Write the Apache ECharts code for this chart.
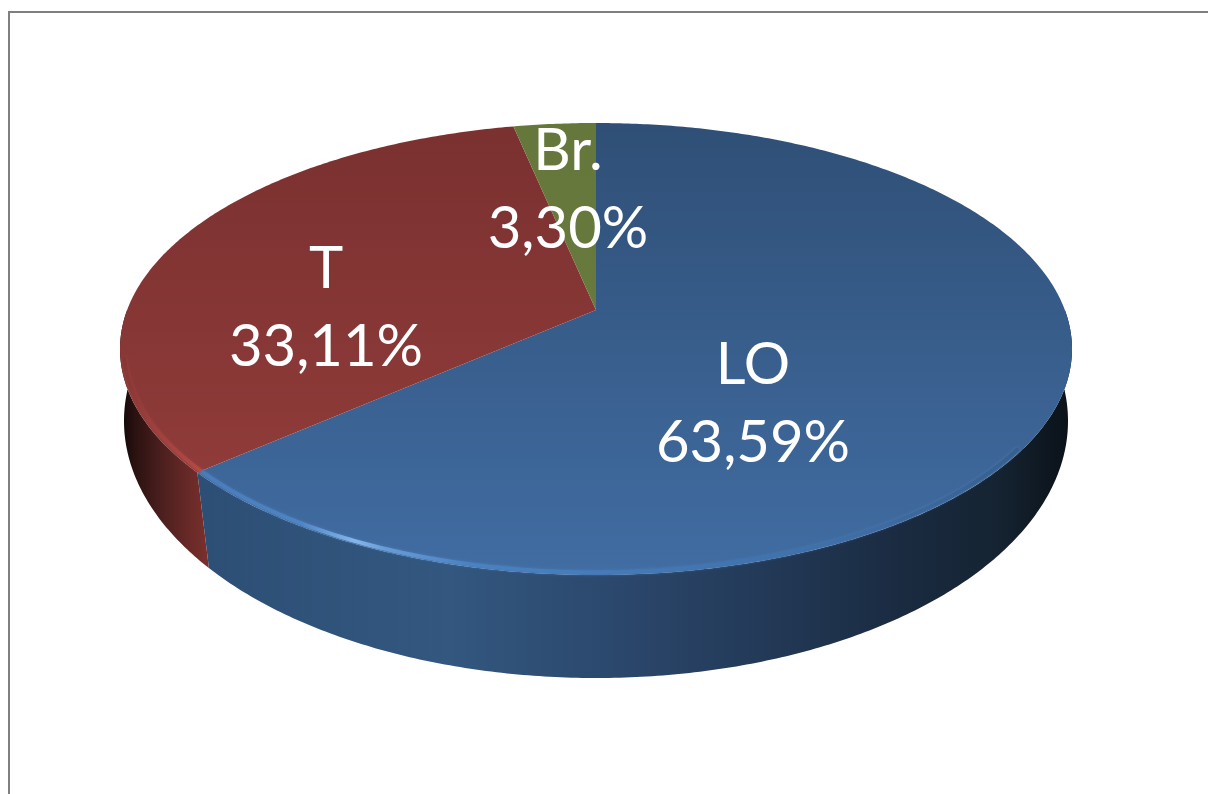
<!DOCTYPE html>
<html>
<head>
<meta charset="utf-8">
<style>html,body{margin:0;padding:0;background:#fff}#c{width:1208px;height:794px}</style>
<script src="https://cdn.jsdelivr.net/npm/echarts@6/dist/echarts.min.js"></script>
</head>
<body>
<div id="c"></div>
<script>
// ---- data ----
const categories = ['LO', 'T', 'Br.'];
const values = [63.59, 33.11, 3.30];
const valueLabels = ['63,59%', '33,11%', '3,30%'];

// ---- layout / style (not data) ----
const labelCenters = [[753, 404], [326, 308], [568, 190]];
const TOP = {cx: 596, cy: 349, rx: 476, ry: 226, c: -0.1726};
const BOTTOM = {cx: 596, cy: 421, rx: 472, ry: 257, c: -0.136};
const RIM_RANGE = [125 * Math.PI / 180, 258 * Math.PI / 180];
const G = (x0, y0, x1, y1, stops) => new echarts.graphic.LinearGradient(
  x0, y0, x1, y1, stops.map(s => ({offset: s[0], color: s[1]})), true);
const wallX = (pairs) => G(120, 0, 1072, 0, pairs.map(p => [(p[0] - 120) / 952, p[1]]));
const faceY = (a, b, y0, y1) => G(0, y0, 0, y1, [[0, a], [1, b]]);
const styles = [
  {
    face: faceY('#2f4f76', '#416da3', 123, 575),
    wall: wallX([[120, '#2f4f74'], [205, '#2d4f76'], [450, '#33577f'], [620, '#2b476c'], [760, '#233a58'], [900, '#1a2b41'], [1000, '#152331'], [1072, '#0a1118']]),
    rim: wallX([[120, '#4a7cba'], [200, '#4a7cba'], [300, '#4f86c5'], [355, '#8dbcf0'], [385, '#6ba0da'], [470, '#4a83c3'], [700, '#4176b2'], [830, '#3f6fa7'], [920, '#3b6698'], [1072, '#35587f']]),
    glow: '#4a7cba'
  },
  {
    face: faceY('#7a3130', '#8f3b39', 127, 470),
    wall: wallX([[120, '#0f0707'], [135, '#2a1211'], [165, '#4f211f'], [207, '#7a302d'], [1072, '#7a302d']]),
    rim: wallX([[120, '#7f3433'], [150, '#9a3f3c'], [200, '#b54a46'], [1072, '#b54a46']]),
    glow: '#a8443f'
  },
  {
    face: faceY('#65773a', '#67793c', 123, 310),
    wall: wallX([[120, '#4a5a2a'], [1072, '#4a5a2a']]),
    rim: wallX([[120, '#65773a'], [1072, '#65773a']]),
    glow: '#65773a'
  }
];

// Projects a point on a circular disc (angle clockwise from 12 o'clock, radius r)
// through the perspective of one horizontal face of the 3-D disc.
function project(f, angle, r) {
  const x = r * Math.sin(angle), y = -r * Math.cos(angle);
  const d = 1 + f.c * y;
  return [f.cx + f.rx * Math.sqrt(1 - f.c * f.c) * x / d,
          f.cy + f.ry * (y + f.c) / d];
}
function arc(f, a0, a1, r) {
  const n = Math.max(2, Math.ceil(Math.abs(a1 - a0) / 0.01)), pts = [];
  for (let i = 0; i <= n; i++) pts.push(project(f, a0 + (a1 - a0) * i / n, r));
  return pts;
}
const total = values.reduce((a, b) => a + b, 0);
const starts = values.reduce((acc, v, i) => { acc.push(acc[i] + v / total * 2 * Math.PI); return acc; }, [0]);

function renderItem(params, api) {
  const i = params.dataIndex;
  const a0 = starts[i], a1 = starts[i + 1], st = styles[i];
  const kids = [];
  // front wall, limited to the half of the disc facing the viewer
  const w0 = Math.max(a0, Math.PI / 2), w1 = Math.min(a1, 3 * Math.PI / 2);
  if (w1 > w0) {
    const topEdge = arc(TOP, w0, w1, 1);
    const botEdge = arc(BOTTOM, w1, w0, 1);
    kids.push({type: 'polygon', z2: 1, shape: {points: topEdge.concat(botEdge)}, style: {fill: st.wall}});
  }
  // top face
  kids.push({type: 'polygon', z2: 2,
    shape: {points: [project(TOP, 0, 0)].concat(arc(TOP, a0, a1, 1))},
    style: {fill: st.face}});
  // soft bevel highlight along the near edge
  const r0 = Math.max(a0, RIM_RANGE[0]), r1 = Math.min(a1, RIM_RANGE[1]);
  if (r1 > r0) {
    kids.push({type: 'polyline', z2: 3, shape: {points: arc(TOP, r0, r1, 0.992)},
      style: {fill: null, stroke: st.rim, lineWidth: 4, lineCap: 'butt',
              opacity: 0.9, shadowBlur: 3, shadowColor: st.glow}});
  }
  // label
  const c = labelCenters[i];
  kids.push({type: 'text', z2: 10, style: {
    text: categories[i] + '\n' + valueLabels[i],
    x: c[0], y: c[1], align: 'center', verticalAlign: 'middle',
    fill: '#ffffff', font: '58px Lato', lineHeight: 78
  }});
  return {type: 'group', children: kids};
}

const chart = echarts.init(document.getElementById('c'), null, {renderer: 'canvas'});
chart.setOption({
  animation: false,
  backgroundColor: '#ffffff',
  graphic: [
    {type: 'rect', shape: {x: 8, y: 11, width: 1200, height: 2}, style: {fill: '#808080'}, silent: true},
    {type: 'rect', shape: {x: 8, y: 11, width: 2, height: 783}, style: {fill: '#808080'}, silent: true}
  ],
  series: [{
    type: 'custom',
    coordinateSystem: 'none',
    renderItem: renderItem,
    data: values.map((v, i) => ({name: categories[i], value: [v]}))
  }]
});
</script>
</body>
</html>
